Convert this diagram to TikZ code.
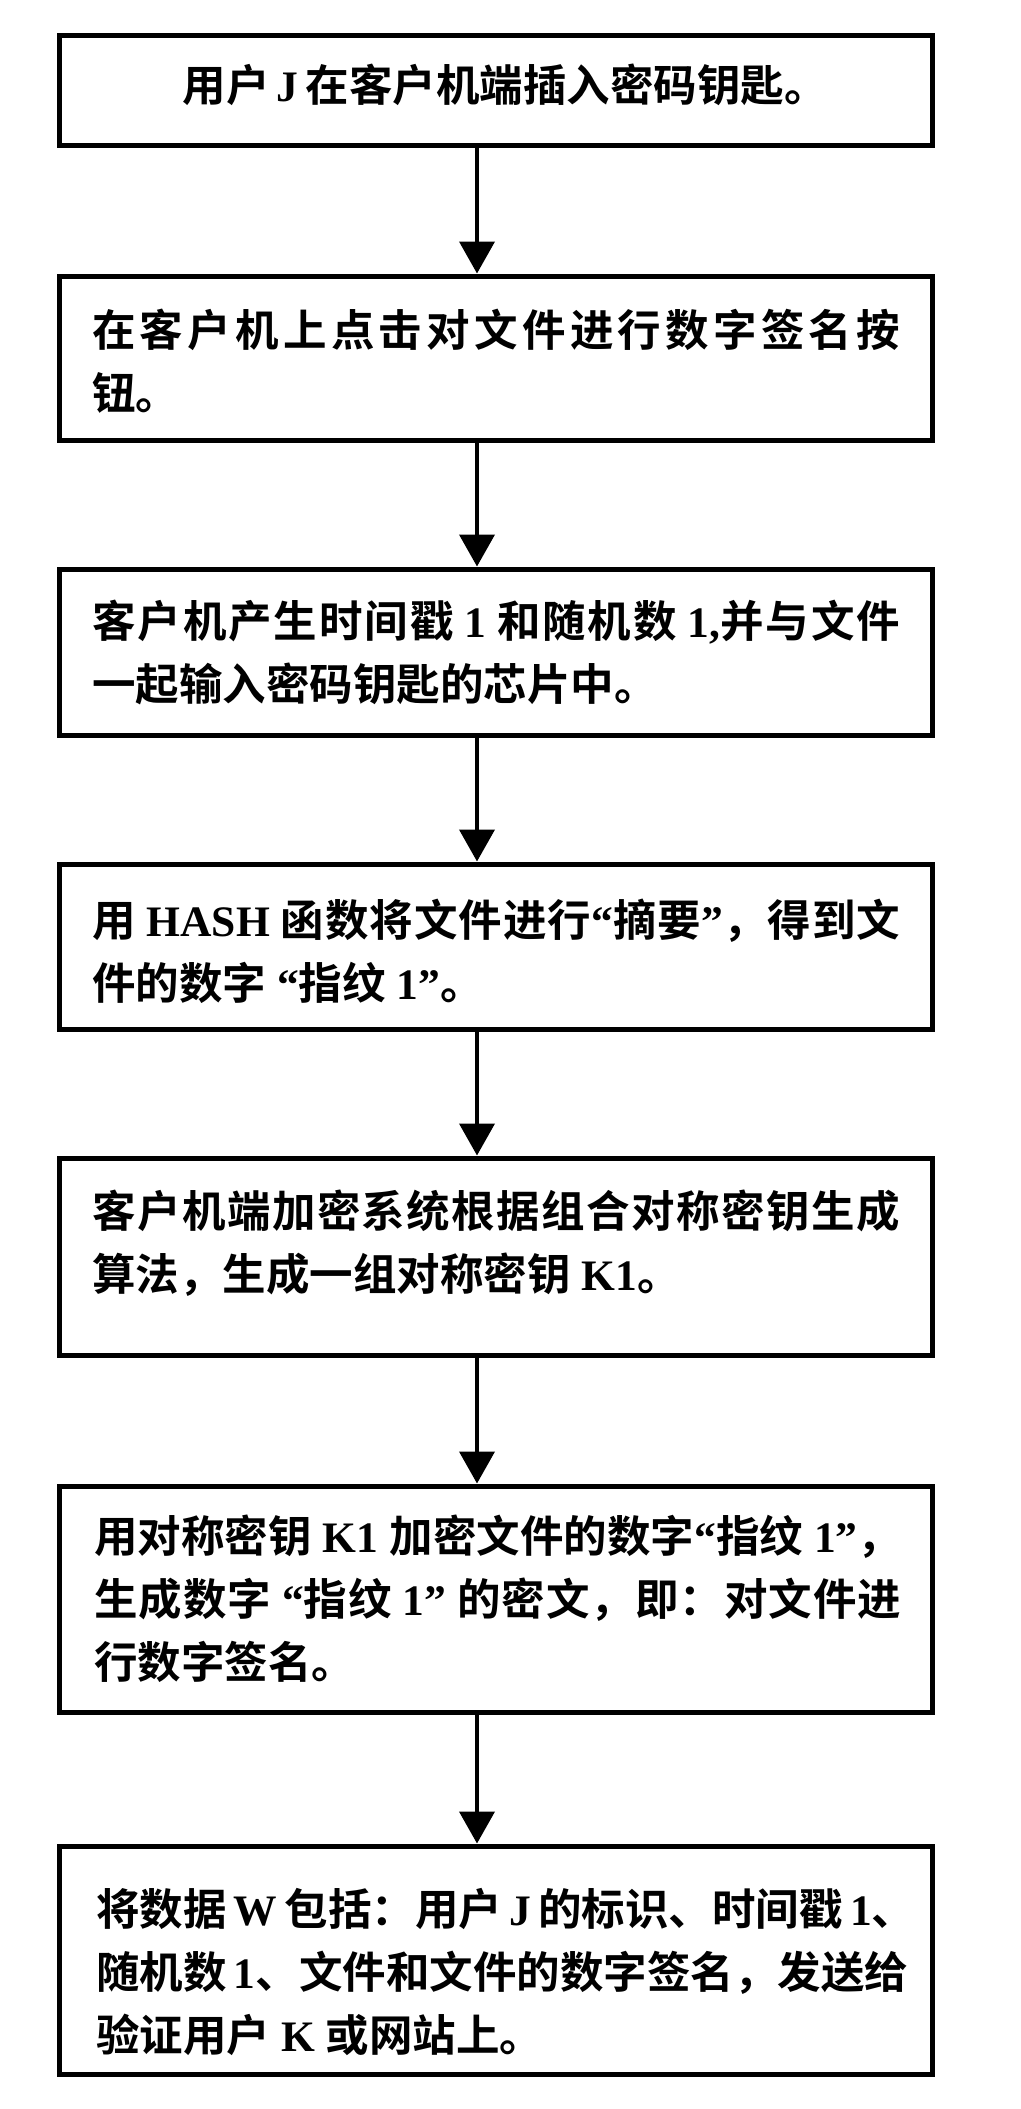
\documentclass[tikz,border=0pt]{standalone}
\usepackage{fontspec}
\setmainfont{Liberation Serif}
\newfontfamily\cjk{Noto Sans CJK SC}[BoldFont=* Bold]
\usetikzlibrary{arrows.meta}
% inter-character glue for justified Chinese lines (active only inside \jl)
\XeTeXinterchartokenstate=1
\newcount\ccnt
\ccnt="4E00
\loop \XeTeXcharclass\ccnt=1 \advance\ccnt by 1 \ifnum\ccnt<"A000 \repeat
\XeTeXcharclass"3001=1
\XeTeXcharclass"3002=1
\XeTeXcharclass"FF0C=1
\XeTeXcharclass"FF1A=1
\newskip\cjkglue
\cjkglue=0pt
\XeTeXinterchartoks 1 1 = {\hskip\cjkglue\relax}
\XeTeXinterchartoks 0 1 = {\hskip\cjkglue\relax}
\XeTeXinterchartoks 1 0 = {\hskip\cjkglue\relax}
\newcommand\lt[1]{{\rmfamily\bfseries#1}}
\newcommand\jl[2]{\makebox[#1][s]{\cjkglue=0pt plus 1fil\relax#2}}
\begin{document}
\begin{tikzpicture}[x=1pt,y=-1pt,
  box/.style={draw, line width=5pt, rectangle, inner sep=0pt, minimum width=873pt},
  txt/.style={inner sep=0pt, align=left, font=\cjk\bfseries\fontsize{43.5}{63}\selectfont},
  arr/.style={line width=4pt, -{Triangle[length=32pt,width=35pt]}}]
\useasboundingbox (0,0) rectangle (1020,2109);
\coordinate (ax) at (477,0);
% boxes
\node[box, minimum height=109pt] (b1) at (495.5,90.5) {};
\node[box, minimum height=164pt] (b2) at (495.5,358) {};
\node[box, minimum height=166pt] (b3) at (495.5,652) {};
\node[box, minimum height=165pt] (b4) at (495.5,946.5) {};
\node[box, minimum height=197pt] (b5) at (495.5,1256.5) {};
\node[box, minimum height=226pt] (b6) at (495.5,1599) {};
\node[box, minimum height=228pt] (b7) at (495.5,1960) {};
% texts
\node[txt, anchor=center] (t1) at (501,85) {\jl{637pt}{用户\lt{ J }在客户机端插入密码钥匙。}};
\node[txt, anchor=west] (t2) at (92,361.5) {\jl{808pt}{在客户机上点击对文件进行数字签名按}\\钮。};
\node[txt, anchor=west] (t3) at (92,652) {\jl{808pt}{客户机产生时间戳\lt{ 1 }和随机数\lt{ 1,}并与文件}\\一起输入密码钥匙的芯片中。};
\node[txt, anchor=west] (t4) at (92,951) {\jl{808pt}{用\lt{ HASH }函数将文件进行\lt{“}摘要\lt{”}，得到文}\\件的数字\lt{ “}指纹\lt{ 1”}。};
\node[txt, anchor=west] (t5) at (92,1243.5) {\jl{808pt}{客户机端加密系统根据组合对称密钥生成}\\算法，生成一组对称密钥\lt{ K1}。};
\node[txt, anchor=west] (t6) at (94,1599) {\jl{807pt}{用对称密钥\lt{ K1 }加密文件的数字\lt{“}指纹\lt{ 1”}，}\\\jl{807pt}{生成数字\lt{ “}指纹\lt{ 1” }的密文，即：对文件进}\\行数字签名。};
\node[txt, anchor=west] (t7) at (96,1972) {\jl{806pt}{将数据\lt{ W }包括：用户\lt{ J }的标识、时间戳\lt{ 1}、}\\\jl{806pt}{随机数\lt{ 1}、文件和文件的数字签名，发送给}\\验证用户\lt{ K }或网站上。};
% arrows
\draw[arr] (b1.south -| ax) -- (b2.north -| ax);
\draw[arr] (b2.south -| ax) -- (b3.north -| ax);
\draw[arr] (b3.south -| ax) -- (b4.north -| ax);
\draw[arr] (b4.south -| ax) -- (b5.north -| ax);
\draw[arr] (b5.south -| ax) -- (b6.north -| ax);
\draw[arr] (b6.south -| ax) -- (b7.north -| ax);
\end{tikzpicture}
\end{document}
